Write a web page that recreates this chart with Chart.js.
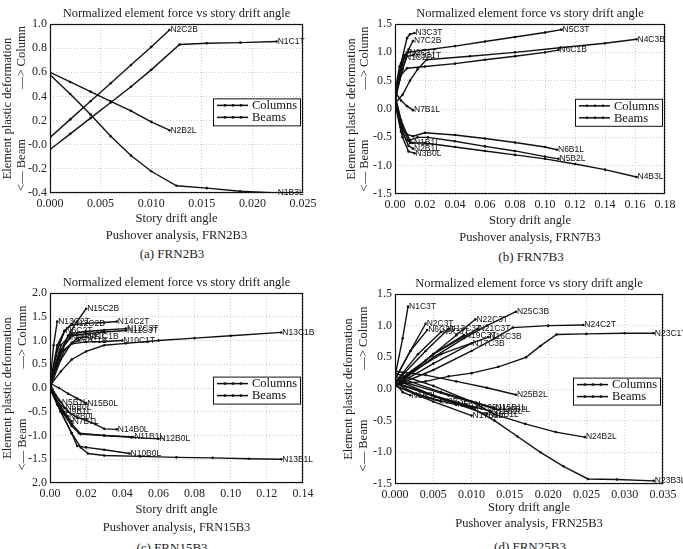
<!DOCTYPE html>
<html lang="en">
<head>
<meta charset="UTF-8" />
<title>Normalized element force vs story drift angle</title>
<style>
  body { margin: 0; background: #fff; font-family: "Liberation Serif", serif; }
  .page { position: relative; width: 683px; height: 549px; overflow: hidden; background: #fff; }
  .panel { position: absolute; }
  .caption { position: absolute; width: 200px; font-size: 13px; color: #222; text-align: center; }
</style>
</head>
<body>
<div class="page">
  <canvas id="chartA" class="panel" width="340" height="245" style="left:0;top:0"></canvas>
  <canvas id="chartB" class="panel" width="343" height="247" style="left:340px;top:0"></canvas>
  <canvas id="chartC" class="panel" width="340" height="267" style="left:0;top:270px"></canvas>
  <canvas id="chartD" class="panel" width="343" height="263" style="left:340px;top:270px"></canvas>
  <div class="caption" style="left:72px;top:246px">(a) FRN2B3</div>
  <div class="caption" style="left:431px;top:249px">(b) FRN7B3</div>
  <div class="caption" style="left:72px;top:540px">(c) FRN15B3</div>
  <div class="caption" style="left:430px;top:539px">(d) FRN25B3</div>
</div>

<script src="https://cdn.jsdelivr.net/npm/chart.js"></script>
<script>
// (a) FRN2B3
const seriesA = [
  { name: "N2C2B", x: [0, 0.002, 0.004, 0.006, 0.008, 0.010, 0.0118], y: [0.06, 0.21, 0.36, 0.51, 0.66, 0.81, 0.95] },
  { name: "N1C1T", x: [0, 0.002, 0.004, 0.006, 0.008, 0.010, 0.0128, 0.0155, 0.0188, 0.0224], y: [-0.04, 0.09, 0.22, 0.35, 0.48, 0.62, 0.83, 0.84, 0.846, 0.855] },
  { name: "N2B2L", x: [0, 0.002, 0.004, 0.006, 0.008, 0.010, 0.0118], y: [0.6, 0.52, 0.44, 0.36, 0.28, 0.19, 0.12] },
  { name: "N1B3L", x: [0, 0.002, 0.004, 0.006, 0.008, 0.010, 0.0125, 0.0155, 0.0188, 0.0224], y: [0.58, 0.42, 0.25, 0.07, -0.09, -0.22, -0.34, -0.36, -0.385, -0.40] },
];

// (b) FRN7B3
const seriesB = [
  { name: "N5C3T", x: [0, 0.003, 0.006, 0.008, 0.02, 0.04, 0.06, 0.08, 0.1, 0.111], y: [0.2, 0.6, 0.9, 1.0, 1.04, 1.11, 1.19, 1.27, 1.35, 1.4] },
  { name: "N4C3B", x: [0, 0.005, 0.01, 0.015, 0.021, 0.05, 0.08, 0.11, 0.14, 0.161], y: [0.1, 0.25, 0.5, 0.7, 0.87, 0.93, 1.0, 1.08, 1.16, 1.23] },
  { name: "N6C1B", x: [0, 0.004, 0.008, 0.02, 0.04, 0.06, 0.08, 0.1, 0.109], y: [0.25, 0.6, 0.72, 0.75, 0.8, 0.87, 0.93, 1.0, 1.04] },
  { name: "N3C3T", x: [0, 0.004, 0.008, 0.01, 0.013], y: [0.25, 0.8, 1.25, 1.32, 1.34] },
  { name: "N7C2B", x: [0, 0.005, 0.009, 0.012], y: [0.2, 0.7, 1.05, 1.2] },
  { name: "N3C1T", x: [0, 0.005, 0.008, 0.012], y: [0.15, 0.7, 0.93, 0.95] },
  { name: "N2C1T", x: [0, 0.003, 0.006, 0.009], y: [0.3, 0.75, 0.95, 1.0] },
  { name: "N1C2B", x: [0, 0.003, 0.006], y: [0.1, 0.6, 0.9] },
  { name: "N7B1L", x: [0, 0.004, 0.008, 0.012], y: [0.3, 0.15, 0.05, -0.02] },
  { name: "N6B1L", x: [0, 0.004, 0.008, 0.012, 0.02, 0.04, 0.06, 0.08, 0.1, 0.108], y: [0.25, -0.2, -0.45, -0.48, -0.42, -0.46, -0.52, -0.59, -0.67, -0.72] },
  { name: "N5B2L", x: [0, 0.005, 0.01, 0.015, 0.022, 0.04, 0.06, 0.08, 0.1, 0.109], y: [0.2, -0.3, -0.55, -0.5, -0.5, -0.57, -0.66, -0.74, -0.84, -0.88] },
  { name: "N4B3L", x: [0, 0.005, 0.01, 0.02, 0.04, 0.06, 0.08, 0.1, 0.12, 0.14, 0.161], y: [0.1, -0.35, -0.6, -0.6, -0.67, -0.74, -0.81, -0.88, -0.97, -1.07, -1.2] },
  { name: "N3B0L", x: [0, 0.005, 0.009, 0.013], y: [0.15, -0.5, -0.75, -0.78] },
  { name: "N2B1L", x: [0, 0.005, 0.009, 0.012], y: [0.2, -0.4, -0.65, -0.7] },
  { name: "N1B1L", x: [0, 0.004, 0.008, 0.012], y: [0.1, -0.4, -0.55, -0.6] },
];

// (c) FRN15B3
const seriesC = [
  { name: "N15C2B", x: [0, 0.005, 0.01, 0.015, 0.02], y: [0.1, 0.6, 1.1, 1.4, 1.67] },
  { name: "N14C2T", x: [0, 0.004, 0.008, 0.012, 0.02, 0.03, 0.037], y: [0.05, 0.8, 1.2, 1.33, 1.36, 1.38, 1.4] },
  { name: "N12C3T", x: [0, 0.006, 0.012, 0.02, 0.03, 0.042], y: [0.1, 0.9, 1.15, 1.19, 1.22, 1.25] },
  { name: "N11C3T", x: [0, 0.006, 0.012, 0.02, 0.03, 0.042], y: [0.05, 0.8, 1.1, 1.14, 1.18, 1.21] },
  { name: "N10C1T", x: [0, 0.006, 0.012, 0.02, 0.03, 0.04], y: [0.08, 0.75, 0.93, 0.97, 0.98, 1.0] },
  { name: "N13C1B", x: [0, 0.006, 0.012, 0.02, 0.03, 0.042, 0.06, 0.08, 0.1, 0.128], y: [0.05, 0.35, 0.6, 0.77, 0.9, 0.94, 1.0, 1.05, 1.1, 1.17] },
  { name: "N13C2T", x: [0, 0.002, 0.004], y: [0.1, 0.9, 1.4] },
  { name: "N12C2B", x: [0, 0.004, 0.008, 0.012], y: [0.05, 0.8, 1.2, 1.35] },
  { name: "N9C1T", x: [0, 0.006, 0.011], y: [0.1, 0.8, 1.05] },
  { name: "N8C2T", x: [0, 0.005, 0.01, 0.015], y: [0.05, 0.7, 1.1, 1.13] },
  { name: "N7C1B", x: [0, 0.006, 0.012, 0.016], y: [0, 0.6, 0.95, 1.0] },
  { name: "N11C1B", x: [0, 0.008, 0.015, 0.02], y: [0.1, 0.8, 1.05, 1.08] },
  { name: "N6C2T", x: [0, 0.004, 0.008], y: [0.1, 0.9, 1.2] },
  { name: "N15B0L", x: [0, 0.005, 0.01, 0.015, 0.02], y: [0.1, 0, -0.12, -0.22, -0.32] },
  { name: "N14B0L", x: [0, 0.005, 0.01, 0.015, 0.02, 0.025, 0.03, 0.037], y: [0.05, -0.25, -0.5, -0.62, -0.68, -0.76, -0.86, -0.87] },
  { name: "N12B0L", x: [0, 0.006, 0.012, 0.016, 0.03, 0.045, 0.06], y: [0.05, -0.45, -0.8, -0.95, -1.0, -1.04, -1.07] },
  { name: "N11B1L", x: [0, 0.006, 0.012, 0.017, 0.03, 0.046], y: [0, -0.4, -0.75, -0.97, -1.0, -1.03] },
  { name: "N10B0L", x: [0, 0.006, 0.012, 0.015, 0.02, 0.03, 0.044], y: [0, -0.5, -0.95, -1.22, -1.25, -1.3, -1.38] },
  { name: "N13B1L", x: [0, 0.006, 0.012, 0.017, 0.021, 0.03, 0.05, 0.07, 0.09, 0.11, 0.128], y: [0, -0.5, -0.95, -1.25, -1.38, -1.42, -1.44, -1.46, -1.47, -1.49, -1.5] },
  { name: "N9B1L", x: [0, 0.004, 0.008], y: [0, -0.35, -0.5] },
  { name: "N8B0L", x: [0, 0.005, 0.01], y: [0.05, -0.4, -0.6] },
  { name: "N7B1L", x: [0, 0.006, 0.012], y: [0, -0.5, -0.7] },
  { name: "N6B0L", x: [0, 0.004, 0.008], y: [0, -0.3, -0.42] },
  { name: "N5B1L", x: [0, 0.003, 0.006], y: [0.1, -0.15, -0.3] },
];

// (d) FRN25B3
const seriesD = [
  { name: "N1C3T", x: [0, 0.001, 0.0017], y: [0.2, 0.8, 1.3] },
  { name: "N2C3T", x: [0, 0.002, 0.004], y: [0.15, 0.6, 1.03] },
  { name: "N6C3T", x: [0, 0.002, 0.0042], y: [0.15, 0.6, 0.93] },
  { name: "N9C3T", x: [0, 0.003, 0.006], y: [0.1, 0.55, 0.9] },
  { name: "N13C3T", x: [0, 0.004, 0.007], y: [0.1, 0.6, 0.95] },
  { name: "N19C3T", x: [0, 0.005, 0.009], y: [0.05, 0.55, 0.85] },
  { name: "N21C3T", x: [0, 0.005, 0.0108], y: [0.05, 0.55, 0.95] },
  { name: "N16C3B", x: [0, 0.006, 0.0122], y: [0.1, 0.55, 0.82] },
  { name: "N17C3B", x: [0, 0.005, 0.01], y: [0.05, 0.4, 0.72] },
  { name: "N22C3T", x: [0, 0.004, 0.008, 0.0105], y: [0.1, 0.45, 0.85, 1.1] },
  { name: "N25C3B", x: [0, 0.005, 0.009, 0.012, 0.0158], y: [0.05, 0.5, 0.8, 1.0, 1.22] },
  { name: "N24C2T", x: [0, 0.005, 0.01, 0.013, 0.0154, 0.02, 0.0246], y: [0.05, 0.3, 0.6, 0.8, 0.97, 1.0, 1.01] },
  { name: "N23C1T", x: [0, 0.004, 0.007, 0.01, 0.0135, 0.0171, 0.019, 0.0211, 0.025, 0.03, 0.0338], y: [0.08, 0.12, 0.2, 0.25, 0.35, 0.5, 0.68, 0.86, 0.87, 0.88, 0.88] },
  { name: "N25B2L", x: [0, 0.004, 0.008, 0.012, 0.0158], y: [0.28, 0.22, 0.12, 0.02, -0.09] },
  { name: "N24B2L", x: [0, 0.005, 0.01, 0.013, 0.017, 0.021, 0.0248], y: [0.25, 0.05, -0.2, -0.4, -0.55, -0.68, -0.76] },
  { name: "N23B3L", x: [0, 0.005, 0.01, 0.013, 0.016, 0.019, 0.022, 0.0252, 0.029, 0.0338], y: [0.1, -0.1, -0.3, -0.5, -0.75, -1.0, -1.22, -1.42, -1.43, -1.45] },
  { name: "N1B3L", x: [0, 0.001, 0.002], y: [0.1, -0.05, -0.1] },
  { name: "N8B3L", x: [0, 0.003, 0.006], y: [0.1, -0.1, -0.2] },
  { name: "N5B1L", x: [0, 0.004, 0.008], y: [0.05, -0.12, -0.25] },
  { name: "N10B1L", x: [0, 0.005, 0.0105], y: [0.15, -0.1, -0.3] },
  { name: "N12B2L", x: [0, 0.006, 0.0125], y: [0.1, -0.15, -0.35] },
  { name: "N15B1L", x: [0, 0.006, 0.013], y: [0.2, -0.05, -0.3] },
  { name: "N17B2L", x: [0, 0.005, 0.01], y: [0.05, -0.2, -0.42] },
  { name: "N19B1L", x: [0, 0.006, 0.012], y: [0.1, -0.15, -0.4] },
  { name: "N20B2L", x: [0, 0.007, 0.0135], y: [0.15, -0.1, -0.33] },
];

const ink = "#111";
const serif = "'Liberation Serif', 'DejaVu Serif', serif";
const chartTitle = "Normalized element force vs story drift angle";
const yTitle = ["Element plastic deformation", "<\u2014 Beam\u2003\u2003\u2003\u2003\u2014> Column"];

// black box round the plot area
const frame = {
  id: "frame",
  afterDraw(chart) {
    const { ctx, chartArea: a } = chart;
    ctx.save();
    ctx.strokeStyle = "#111";
    ctx.lineWidth = 1.2;
    ctx.strokeRect(a.left + 0.5, a.top + 0.5, a.right - a.left - 1, a.bottom - a.top - 1);
    ctx.restore();
  },
};

// element name next to the last point of each line
const endLabels = {
  id: "endLabels",
  afterDatasetsDraw(chart) {
    const { ctx } = chart;
    ctx.save();
    ctx.font = "8.5px 'Liberation Sans', Arial, sans-serif";
    ctx.fillStyle = "#111";
    ctx.textAlign = "left";
    ctx.textBaseline = "middle";
    chart.data.datasets.forEach((ds, i) => {
      const pts = chart.getDatasetMeta(i).data;
      const last = pts[pts.length - 1];
      ctx.fillText(ds.label, last.x + 1, last.y);
    });
    ctx.restore();
  },
};

// title centred over the plot area
const panelTitle = {
  id: "panelTitle",
  afterDraw(chart, args, opts) {
    const { ctx, chartArea: a } = chart;
    ctx.save();
    ctx.font = "12.5px " + serif;
    ctx.fillStyle = "#222";
    ctx.textAlign = "center";
    ctx.textBaseline = "middle";
    ctx.fillText(opts.text, (a.left + a.right) / 2, a.top - opts.gap);
    ctx.restore();
  },
};

// Columns / Beams box inside the plot
const boxLegend = {
  id: "boxLegend",
  afterDraw(chart) {
    const { ctx, chartArea: a } = chart;
    const w = 87, h = 27;
    const left = a.right - w - 3;
    const top = a.top + (a.bottom - a.top) * 0.44;
    ctx.save();
    ctx.fillStyle = "#fff";
    ctx.fillRect(left, top, w, h);
    ctx.strokeStyle = "#111";
    ctx.lineWidth = 1;
    ctx.strokeRect(left + 0.5, top + 0.5, w, h);
    ["Columns", "Beams"].forEach((name, i) => {
      const y = top + 7 + i * 12;
      ctx.strokeStyle = ink;
      ctx.lineWidth = 1.5;
      ctx.beginPath();
      ctx.moveTo(left + 4, y);
      ctx.lineTo(left + 35, y);
      ctx.stroke();
      ctx.fillStyle = ink;
      [left + 12, left + 20, left + 28].forEach((px) => {
        ctx.beginPath();
        ctx.arc(px, y, 1.4, 0, Math.PI * 2);
        ctx.fill();
      });
      ctx.font = "12.5px " + serif;
      ctx.textAlign = "left";
      ctx.textBaseline = "middle";
      ctx.fillText(name, left + 39, y + 0.5);
    });
    ctx.restore();
  },
};

function makePanel(id, series, cfg) {
  const ctx = document.getElementById(id).getContext("2d");
  return new Chart(ctx, {
    type: "scatter",
    data: {
      datasets: series.map((s) => ({
        label: s.name,
        data: s.x.map((v, i) => ({ x: v, y: s.y[i] })),
        showLine: true,
        borderColor: ink,
        backgroundColor: ink,
        borderWidth: 1.4,
        pointRadius: 1.3,
        pointBorderWidth: 0,
        tension: 0,
      })),
    },
    options: {
      responsive: false,
      animation: false,
      events: [],
      layout: { padding: { top: cfg.top, right: cfg.right, left: 0, bottom: 0 } },
      plugins: {
        legend: { display: false },
        tooltip: { enabled: false },
        panelTitle: { text: chartTitle, gap: cfg.titleGap },
      },
      scales: {
        x: {
          type: "linear",
          min: 0,
          max: cfg.xMax,
          ticks: {
            stepSize: cfg.xStep,
            color: "#222",
            padding: 4,
            font: { family: serif, size: 12 },
            callback: (v) => v.toFixed(cfg.xDigits),
          },
          grid: { color: "#bdbdbd", lineWidth: 0.8, drawTicks: false },
          border: { display: false, dash: [1, 2] },
          title: {
            display: true,
            text: ["Story drift angle", cfg.analysis],
            color: "#222",
            font: { family: serif, size: 12.5, lineHeight: cfg.xLine },
            padding: { top: 0, bottom: cfg.xPad },
          },
          afterFit: (s) => { s.height = cfg.xAxisHeight; },
        },
        y: {
          min: cfg.yMin,
          max: cfg.yMax,
          ticks: {
            stepSize: cfg.yStep,
            color: "#222",
            padding: 3,
            font: { family: serif, size: 12 },
            callback: cfg.yLabel || ((v) => v.toFixed(1)),
          },
          grid: { color: "#bdbdbd", lineWidth: 0.8, drawTicks: false },
          border: { display: false, dash: [1, 2] },
          title: {
            display: true,
            text: yTitle,
            color: "#222",
            font: { family: serif, size: 12.5, lineHeight: cfg.yLine },
            padding: { top: cfg.yTitlePad, bottom: 0 },
          },
          afterFit: (s) => { s.width = cfg.yAxisWidth; },
        },
      },
    },
    plugins: [frame, endLabels, panelTitle, boxLegend],
  });
}

makePanel("chartA", seriesA, {
  top: 24, right: 37, titleGap: 10, yAxisWidth: 50, xAxisHeight: 52,
  xMax: 0.025, xStep: 0.005, xDigits: 3, yMin: -0.4, yMax: 1.0, yStep: 0.2,
  xLine: 1.36, xPad: 0.5, yLine: 1.12, yTitlePad: 1, analysis: "Pushover analysis, FRN2B3",
});

makePanel("chartB", seriesB, {
  top: 24, right: 18, titleGap: 10, yAxisWidth: 55, xAxisHeight: 53,
  xMax: 0.18, xStep: 0.02, xDigits: 2, yMin: -1.5, yMax: 1.5, yStep: 0.5,
  xLine: 1.36, xPad: 0.5, yLine: 1.04, yTitlePad: 5.5, analysis: "Pushover analysis, FRN7B3",
});

makePanel("chartC", seriesC, {
  top: 23, right: 37, titleGap: 10, yAxisWidth: 50, xAxisHeight: 54,
  xMax: 0.14, xStep: 0.02, xDigits: 2, yMin: -2.0, yMax: 2.0, yStep: 0.5,
  xLine: 1.44, xPad: 0, yLine: 1.2, yTitlePad: 0.5, analysis: "Pushover analysis, FRN15B3",
  yLabel: (v) => (v === -2 ? "2.0" : v.toFixed(1)),
});

makePanel("chartD", seriesD, {
  top: 24, right: 20, titleGap: 10, yAxisWidth: 55, xAxisHeight: 49,
  xMax: 0.035, xStep: 0.005, xDigits: 3, yMin: -1.5, yMax: 1.5, yStep: 0.5,
  xLine: 1.28, xPad: 1, yLine: 1.2, yTitlePad: 1.5, analysis: "Pushover analysis, FRN25B3",
});
</script>
</body>
</html>
